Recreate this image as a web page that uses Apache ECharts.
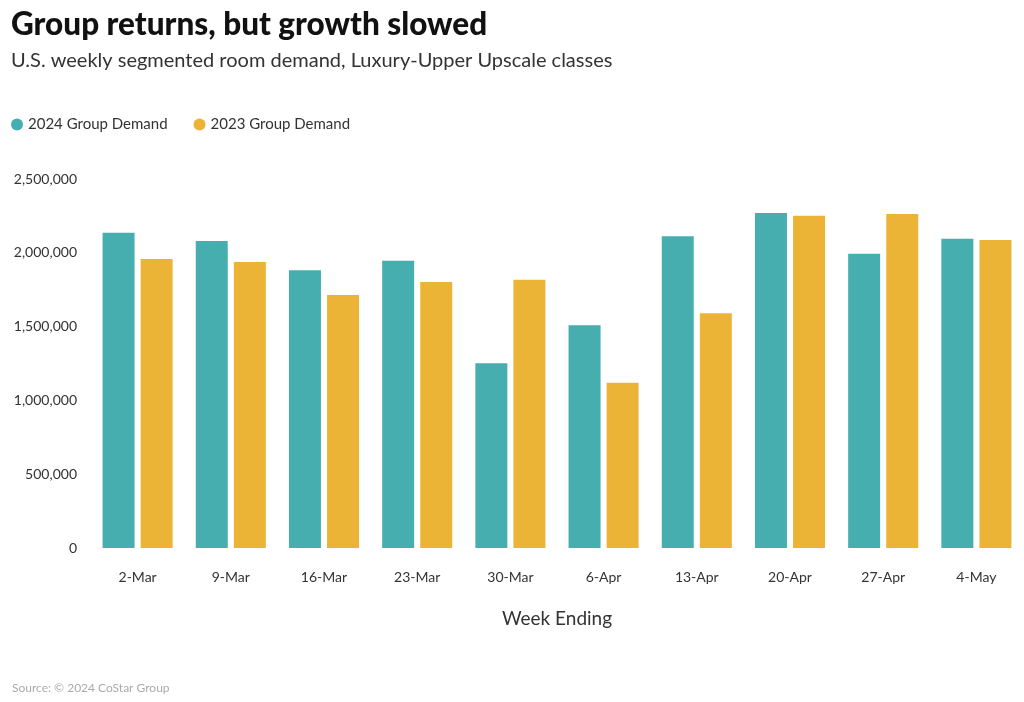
<!DOCTYPE html>
<html>
<head>
<meta charset="utf-8">
<script src="https://cdn.jsdelivr.net/npm/echarts@6/dist/echarts.min.js"></script>
<style>html,body{margin:0;padding:0;background:#fff;}#c{width:1024px;height:702px;}</style>
</head>
<body>
<div id="c"></div>
<script>
const categories = ['2-Mar','9-Mar','16-Mar','23-Mar','30-Mar','6-Apr','13-Apr','20-Apr','27-Apr','4-May'];
const demand2024 = [2136000,2080000,1881000,1946000,1251000,1509000,2112000,2270000,1994000,2096000];
const demand2023 = [1958000,1938000,1714000,1802000,1818000,1120000,1590000,2251000,2263000,2087000];
const yTicks = {min:0, max:2500000, interval:500000};

const FONT = 'Lato, "Noto Sans", sans-serif';
const chart = echarts.init(document.getElementById('c'));
chart.setOption({
  animation:false,
  textStyle:{fontFamily:FONT},
  title:[
    {text:'Group returns, but growth slowed', left:6, top:4, textStyle:{fontFamily:FONT,fontSize:31.5,fontWeight:900,color:'#111'}},
    {text:'U.S. weekly segmented room demand, Luxury-Upper Upscale classes', left:6, top:46, textStyle:{fontFamily:FONT,fontSize:20,fontWeight:'normal',color:'#333'}},
    {text:'Source: © 2024 CoStar Group', left:7, top:677, textStyle:{fontFamily:FONT,fontSize:12,fontWeight:'normal',color:'#aaa'}}
  ],
  legend:{left:6, top:112, icon:'circle', itemWidth:12, itemHeight:12, itemGap:26, itemTextGap:4,
    textStyle:{fontFamily:FONT,fontSize:15,color:'#333'},
    data:['2024 Group Demand','2023 Group Demand']},
  grid:{left:91, right:1, top:179, bottom:154},
  xAxis:{type:'category', data:categories,
    axisLine:{show:false}, axisTick:{show:false},
    axisLabel:{color:'#333', fontSize:14, margin:22, fontFamily:FONT},
    name:'Week Ending', nameLocation:'middle', nameGap:61,
    nameTextStyle:{color:'#333', fontSize:19, fontFamily:FONT}},
  yAxis:{type:'value', min:yTicks.min, max:yTicks.max, interval:yTicks.interval,
    splitLine:{show:false}, axisLine:{show:false}, axisTick:{show:false},
    axisLabel:{color:'#333', fontSize:14, margin:14, fontFamily:FONT,
      formatter:v=>v.toLocaleString('en-US')}},
  series:[
    {name:'2024 Group Demand', type:'bar', data:demand2024, barWidth:32, barGap:'19%', itemStyle:{color:'#47aeb0'}},
    {name:'2023 Group Demand', type:'bar', data:demand2023, barWidth:32, itemStyle:{color:'#ecb436'}}
  ]
});
</script>
</body>
</html>
